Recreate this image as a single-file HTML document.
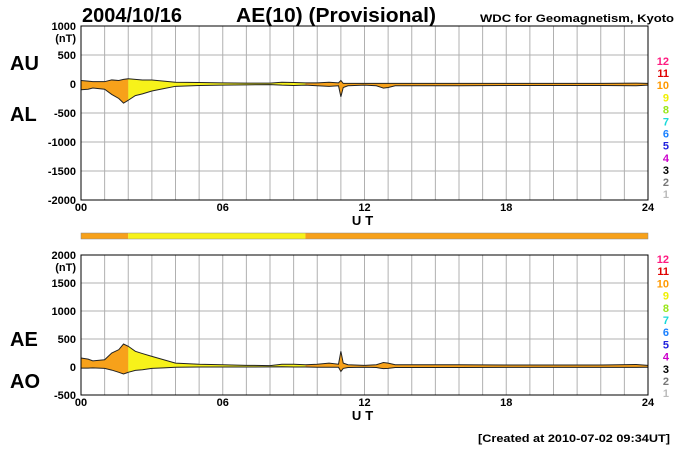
<!DOCTYPE html>
<html><head><meta charset="utf-8"><style>
html,body{margin:0;padding:0;background:#fff;}
svg{display:block;font-family:"Liberation Sans",sans-serif;font-weight:bold;}
</style></head><body>
<svg id="c" width="700" height="450" viewBox="0 0 700 450" xmlns="http://www.w3.org/2000/svg">
<text x="82" y="22" font-size="20" textLength="100" lengthAdjust="spacingAndGlyphs">2004/10/16</text>
<text x="236" y="22" font-size="20" textLength="200" lengthAdjust="spacingAndGlyphs">AE(10) (Provisional)</text>
<text x="480" y="22" font-size="11" textLength="194" lengthAdjust="spacingAndGlyphs">WDC for Geomagnetism, Kyoto</text>
<text x="10" y="70" font-size="20">AU</text>
<text x="10" y="121" font-size="20">AL</text>
<text x="10" y="346" font-size="20">AE</text>
<text x="10" y="388" font-size="20">AO</text>
<text x="478" y="442" font-size="11" textLength="192" lengthAdjust="spacingAndGlyphs">[Created at 2010-07-02 09:34UT]</text>
<g id="top"></g>
<g id="bot"></g>
<g id="bar"></g>
</svg>
<script>
const times=[0,0.3,0.5,1,1.3,1.6,1.8,2,2.3,2.6,3,3.5,4,5,6,7,8,8.5,9,9.5,10,10.5,10.9,11.0,11.1,11.3,12,12.5,12.8,13,13.3,14,16,18,20,22,23.5,24];
const auVals=[60,50,40,40,70,60,80,90,80,70,70,50,30,25,20,15,15,30,25,20,20,30,20,60,10,10,10,10,10,10,10,10,10,10,10,10,15,10];
const alVals=[-100,-90,-70,-90,-180,-250,-330,-280,-200,-170,-120,-80,-40,-25,-20,-15,-10,-20,-25,-20,-30,-40,-30,-220,-60,-30,-20,-30,-70,-60,-30,-30,-30,-25,-25,-25,-30,-20];
const segStart=[0,2,9.5];
const segEnd=[2,9.5,24];
const segColor=["#f7a11a","#f7f21a","#f7a11a"];
const topTicks=[1000,500,0,-500,-1000,-1500,-2000];
const botTicks=[2000,1500,1000,500,0,-500];
const hourLabels=["00","06","12","18","24"];
const levelLabels=["12","11","10","9","8","7","6","5","4","3","2","1"];
const levelColors=["#ff1a80","#e00000","#ff9900","#f0f000","#99e619","#19d9d9","#1a80ff","#2222dd","#cc00cc","#000000","#777777","#bbbbbb"];

const NS="http://www.w3.org/2000/svg";
const X0=81,X1=648;
const sx=h=>X0+(X1-X0)*h/24;
function mk(p,tag,a){const e=document.createElementNS(NS,tag);for(const k in a)e.setAttribute(k,a[k]);p.appendChild(e);return e;}

function panel(g,y0,y1,vmax,vmin,ticks,upper,lower,idp){
  const sy=v=>y0+(vmax-v)*(y1-y0)/(vmax-vmin);
  for(let h=1;h<24;h++){const l=mk(g,"line",{x1:sx(h),x2:sx(h),y1:y0,y2:y1,stroke:"#b0b0b0","stroke-width":1});
    
    }
  ticks.forEach(v=>{
    const l=mk(g,"line",{x1:X0,x2:X1,y1:sy(v),y2:sy(v),stroke:"#b0b0b0","stroke-width":1});
    
    
    const t=mk(g,"text",{x:76,y:sy(v)+4,"font-size":11,"text-anchor":"end"});t.textContent=v;
    
    
  });
  const nt=mk(g,"text",{x:76,y:sy(ticks[0])+16,"font-size":11,"text-anchor":"end"});nt.textContent="(nT)";
  
  
  let d="M"+times.map((t,i)=>sx(t)+","+sy(upper[i])).join("L");
  for(let i=times.length-1;i>=0;i--)d+="L"+sx(times[i])+","+sy(lower[i]);
  d+="Z";
  segStart.forEach((s,k)=>{
    const cp=mk(g,"clipPath",{id:idp+k});
    mk(cp,"rect",{x:sx(s),y:y0,width:sx(segEnd[k])-sx(s),height:y1-y0});
    const p=mk(g,"path",{d:d,fill:segColor[k],"clip-path":"url(#"+idp+k+")"});
    
    
  });
  const lu=mk(g,"path",{d:"M"+times.map((t,i)=>sx(t)+","+sy(upper[i])).join("L"),fill:"none",stroke:"#222","stroke-width":1});
  
  
  const ll=mk(g,"path",{d:"M"+times.map((t,i)=>sx(t)+","+sy(lower[i])).join("L"),fill:"none",stroke:"#222","stroke-width":1});
  
  
  const fr=mk(g,"rect",{x:X0,y:y0,width:X1-X0,height:y1-y0,fill:"none",stroke:"#000","stroke-width":1});
  
  
  hourLabels.forEach((s,i)=>{
    const t=mk(g,"text",{x:sx(i*6),y:y1+11,"font-size":11,"text-anchor":"middle"});t.textContent=s;
    
    
  });
  const ut=mk(g,"text",{x:sx(12),y:y1+25,"font-size":13,"text-anchor":"middle","letter-spacing":"4"});ut.textContent="UT";
  
  
}
function levels(g,yTop,step){
  levelLabels.forEach((s,i)=>{
    const t=mk(g,"text",{x:669,y:yTop+i*step,"font-size":11,"text-anchor":"end",fill:levelColors[i]});t.textContent=s;
    
    
  });
}
const aeVals=auVals.map((u,i)=>u-alVals[i]);
const aoVals=auVals.map((u,i)=>(u+alVals[i])/2);
const topG=document.getElementById("top"),botG=document.getElementById("bot"),barG=document.getElementById("bar");
panel(topG,26,200,1000,-2000,topTicks,auVals,alVals,"ct");
panel(botG,255,395,2000,-500,botTicks,aeVals,aoVals,"cb");
levels(topG,65,12.1);
levels(botG,263,12.2);
segStart.forEach((s,k)=>{
  const r=mk(barG,"rect",{x:sx(s),y:233,width:sx(segEnd[k])-sx(s),height:6,fill:segColor[k]});
  
  
});
const bf=mk(barG,"rect",{x:X0,y:233,width:X1-X0,height:6,fill:"none",stroke:"#888","stroke-width":0.5});


</script>
</body></html>
